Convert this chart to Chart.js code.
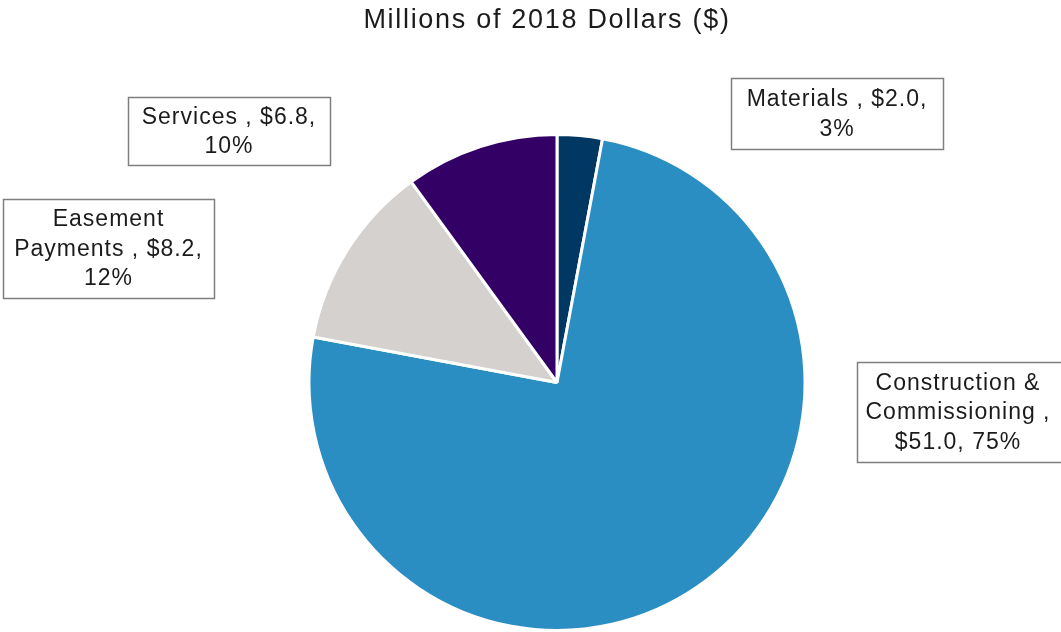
<!DOCTYPE html>
<html>
<head>
<meta charset="utf-8">
<script src="https://cdn.jsdelivr.net/npm/chart.js@4/dist/chart.umd.min.js"></script>
<style>
  html, body { margin: 0; padding: 0; background: #ffffff; }
  #wrap { width: 1061px; height: 632px; position: relative; }
</style>
</head>
<body>
<div id="wrap"><canvas id="c" width="1061" height="632"></canvas></div>
<script>
// Cost breakdown, millions of 2018 dollars
const categories = ['Materials', 'Construction & Commissioning', 'Easement Payments', 'Services'];
const values = [2.0, 51.0, 8.2, 6.8];
const colors = ['#003763', '#2b8ec2', '#d5d1ce', '#330066'];
const chartTitle = 'Millions of 2018 Dollars ($)';

// Callout boxes: [left, top, width, height] for each slice's label
const boxes = [
  [731, 78, 212, 71],
  [857, 362, 210, 100],
  [3, 199, 211, 99],
  [128, 97, 202, 68]
];

const FONT = '23px "Liberation Sans", Arial, sans-serif';
const TEXT_COLOR = '#1b1b1b';

function wrapWords(ctx, text, maxW) {
  const words = text.split(' ');
  const lines = [];
  let cur = '';
  for (const w of words) {
    const test = cur ? cur + ' ' + w : w;
    if (cur && ctx.measureText(test).width > maxW) {
      lines.push(cur);
      cur = w;
    } else {
      cur = test;
    }
  }
  if (cur) lines.push(cur);
  return lines;
}

const calloutPlugin = {
  id: 'callouts',
  afterDraw(chart) {
    const ctx = chart.ctx;
    const total = values.reduce((a, b) => a + b, 0);
    ctx.save();
    // title
    ctx.font = '27px "Liberation Sans", Arial, sans-serif';
    ctx.letterSpacing = '1.7px';
    ctx.fillStyle = TEXT_COLOR;
    ctx.textAlign = 'center';
    ctx.textBaseline = 'middle';
    ctx.fillText(chartTitle, 547, 21);

    ctx.font = FONT;
    ctx.letterSpacing = '1px';
    categories.forEach((name, i) => {
      const [x, y, w, h] = boxes[i];
      ctx.fillStyle = '#ffffff';
      ctx.fillRect(x, y, w, h);
      ctx.strokeStyle = '#7f7f7f';
      ctx.lineWidth = 1.5;
      ctx.strokeRect(x + 0.5, y + 0.5, w, h);
      const pct = Math.round(values[i] / total * 100);
      const label = name + ' , $' + values[i].toFixed(1) + ', ' + pct + '%';
      const lines = wrapWords(ctx, label, 194);
      const lh = 29.5;
      const cx = i === 1 ? 958 : x + w / 2;
      const cy = y + h / 2;
      ctx.fillStyle = TEXT_COLOR;
      lines.forEach((ln, k) => {
        ctx.fillText(ln, cx, cy + (k - (lines.length - 1) / 2) * lh + 1);
      });
    });
    ctx.restore();
  }
};

new Chart(document.getElementById('c'), {
  type: 'pie',
  data: {
    labels: categories,
    datasets: [{
      data: values,
      backgroundColor: colors,
      borderColor: '#ffffff',
      borderWidth: 3
    }]
  },
  options: {
    responsive: false,
    animation: false,
    layout: { padding: { top: 133, bottom: 0, left: 307, right: 254 } },
    plugins: {
      legend: { display: false },
      tooltip: { enabled: false },
      title: { display: false }
    }
  },
  plugins: [calloutPlugin]
});
</script>
</body>
</html>
